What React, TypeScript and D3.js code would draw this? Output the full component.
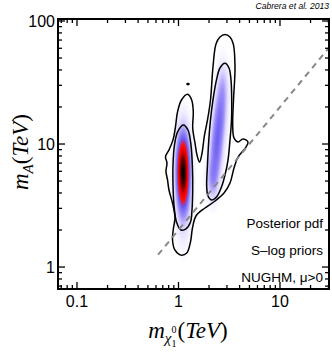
import React, { useMemo } from 'react';
import * as d3 from 'd3';

const W = 332, H = 353;
const M = { left: 58, right: 329, top: 19, bottom: 289 };
const X_DOMAIN: [number, number] = [0.065, 30.4];
const Y_DOMAIN: [number, number] = [0.663, 103.8];

const xMajor = [0.1, 1, 10];
const xMajorLabels = ['0.1', '1', '10'];
const yMajor = [1, 10, 100];
const yMajorLabels = ['1', '10', '100'];

// Gaussian-mixture model of the posterior density (centres in TeV, widths in decades)
const compX = [1.109, 1.12, 2.17, 2.35, 2.54, 2.74];
const compY = [6.03, 5.0, 5.2, 8.9, 15.8, 28.2];
const compSdU = [0.04, 0.052, 0.04, 0.042, 0.042, 0.04];
const compSdV = [0.19, 0.28, 0.12, 0.15, 0.15, 0.15];
const compW = [1.0, 0.3, 0.3, 0.38, 0.36, 0.24];

// outer credible contour (TeV)
const outerX = [1.23, 1.349, 1.399, 1.38, 1.454, 1.522, 1.61, 1.693, 1.804, 1.931, 2.067, 2.187, 2.342, 2.564, 2.872, 3.217, 3.467, 3.604, 3.483, 3.42, 3.523, 3.857, 4.321, 4.839, 4.624, 3.857, 3.523, 3.217, 2.808, 2.289, 1.824, 1.487, 1.374, 1.313, 1.205, 1.058, 0.924, 0.873, 0.893, 0.924, 0.883, 0.806, 0.78, 0.753, 0.77, 0.745, 0.806, 0.883, 0.934, 0.978, 1.07];
const outerY = [25.4, 22.8, 18.2, 13.5, 10.2, 8.14, 7.14, 8.14, 11.8, 15.7, 22.8, 42.3, 65.0, 74.1, 77.7, 74.1, 65.0, 42.3, 22.8, 14.3, 11.2, 10.4, 11.0, 10.4, 9.45, 7.84, 6.38, 4.82, 4.0, 3.44, 3.02, 2.6, 2.08, 1.6, 1.3, 1.25, 1.37, 1.66, 2.08, 2.5, 3.19, 4.23, 5.1, 6.0, 7.0, 7.9, 8.94, 10.8, 13.8, 18.2, 22.8];

// inner contour, left island
const innerLX = [1.115, 1.24, 1.328, 1.374, 1.38, 1.359, 1.313, 1.186, 1.058, 0.956, 0.903, 0.883, 0.883, 0.913, 0.978];
const innerLY = [14.3, 13.0, 9.81, 6.15, 4.23, 2.91, 2.32, 2.04, 2.0, 2.32, 3.19, 4.64, 6.75, 9.81, 12.5];

// inner contour, right island
const innerRX = [2.872, 3.145, 3.291, 3.344, 3.329, 3.217, 3.075, 2.872, 2.652, 2.368, 2.114, 1.953, 1.896, 1.931, 1.975, 2.067, 2.187, 2.368, 2.564];
const innerRY = [45.3, 41.5, 33.2, 22.8, 15.7, 10.8, 7.41, 5.6, 4.47, 3.71, 3.51, 3.78, 4.56, 6.75, 9.81, 15.7, 22.8, 33.2, 41.5];

// isolated tiny contour
const dotX = [1.24];
const dotY = [30.7];

// dashed reference line m_A = 2 m_chi
const diagX = [0.63, 30.4];
const diagRatio = 2;

const colorStops = [0, 0.04, 0.12, 0.24, 0.4, 0.52, 0.68, 0.84, 1];
const colorVals = ['#ffffff', '#f4f1ff', '#dcd4ff', '#9d90f7', '#6a5af2', '#ff1414', '#e80000', '#700000', '#000000'];

export default function App() {
  const x = d3.scaleLog().domain(X_DOMAIN).range([M.left, M.right]);
  const y = d3.scaleLog().domain(Y_DOMAIN).range([M.bottom, M.top]);

  const nx = M.right - M.left;
  const ny = M.bottom - M.top;

  const { bands } = useMemo(() => {
    const vals = new Float64Array(nx * ny);
    const cu = compX.map(Math.log10);
    const cv = compY.map(Math.log10);
    let max = 0;
    for (let j = 0; j < ny; j++) {
      const v = Math.log10(y.invert(M.top + j + 0.5));
      for (let i = 0; i < nx; i++) {
        const u = Math.log10(x.invert(M.left + i + 0.5));
        let s = 0;
        for (let k = 0; k < compW.length; k++) {
          const a = (u - cu[k]) / compSdU[k];
          const b = (v - cv[k]) / compSdV[k];
          s += compW[k] * Math.exp(-0.5 * (a * a + b * b));
        }
        vals[j * nx + i] = s;
        if (s > max) max = s;
      }
    }
    const th = d3.range(0.015, 1.0, 0.015).map((t) => t * max);
    const cs = d3.contours().size([nx, ny]).thresholds(th)(Array.from(vals));
    const color = d3.scaleLinear<string>().domain(colorStops).range(colorVals).interpolate(d3.interpolateRgb).clamp(true);
    const path = d3.geoPath();
    return {
      bands: cs.map((c) => ({ d: path(c as any) || '', fill: color(c.value / max) })),
    };
  }, []);

  const closed = d3
    .line<[number, number]>()
    .x((p) => x(p[0]))
    .y((p) => y(p[1]))
    .curve(d3.curveCatmullRomClosed.alpha(0.5));

  const outer = closed(outerX.map((v, i) => [v, outerY[i]]));
  const innerL = closed(innerLX.map((v, i) => [v, innerLY[i]]));
  const innerR = closed(innerRX.map((v, i) => [v, innerRY[i]]));

  const minorX: number[] = [];
  const minorY: number[] = [];
  [0.01, 0.1, 1, 10].forEach((d) => {
    for (let k = 2; k <= 9; k++) {
      const val = d * k;
      if (val > X_DOMAIN[0] && val < X_DOMAIN[1]) minorX.push(val);
      if (val > Y_DOMAIN[0] && val < Y_DOMAIN[1]) minorY.push(val);
    }
  });

  const MAJ = 7, MIN = 4;
  const tickStroke = { stroke: '#000', strokeWidth: 1.3 };

  return (
    <svg width={W} height={H} style={{ position: 'absolute', left: 0, top: 0, background: '#fff' }}>
      <defs>
        <clipPath id="plot">
          <rect x={M.left} y={M.top} width={nx} height={ny} />
        </clipPath>
      </defs>
      <g clipPath="url(#plot)">
        <g transform={`translate(${M.left},${M.top})`}>
          {bands.map((b, i) => (
            <path key={i} d={b.d} fill={b.fill} stroke="none" />
          ))}
        </g>
        <path d={outer || ''} fill="none" stroke="#000" strokeWidth={1.5} />
        <path d={innerL || ''} fill="none" stroke="#000" strokeWidth={1.5} />
        <path d={innerR || ''} fill="none" stroke="#000" strokeWidth={1.5} />
        {dotX.map((v, i) => (
          <ellipse key={i} cx={x(v)} cy={y(dotY[i])} rx={1.8} ry={1.4} fill="#000" />
        ))}
        <line
          x1={x(diagX[0])}
          y1={y(diagX[0] * diagRatio)}
          x2={x(diagX[1])}
          y2={y(diagX[1] * diagRatio)}
          stroke="#888"
          strokeWidth={2}
          strokeDasharray="6,5"
        />
      </g>

      {/* ticks */}
      {xMajor.map((t) => (
        <g key={'xm' + t}>
          <line x1={x(t)} x2={x(t)} y1={M.bottom} y2={M.bottom - MAJ} {...tickStroke} />
          <line x1={x(t)} x2={x(t)} y1={M.top} y2={M.top + MAJ} {...tickStroke} />
        </g>
      ))}
      {minorX.map((t) => (
        <g key={'xn' + t}>
          <line x1={x(t)} x2={x(t)} y1={M.bottom} y2={M.bottom - MIN} {...tickStroke} />
          <line x1={x(t)} x2={x(t)} y1={M.top} y2={M.top + MIN} {...tickStroke} />
        </g>
      ))}
      {yMajor.map((t) => (
        <g key={'ym' + t}>
          <line y1={y(t)} y2={y(t)} x1={M.left} x2={M.left + MAJ} {...tickStroke} />
          <line y1={y(t)} y2={y(t)} x1={M.right} x2={M.right - MAJ} {...tickStroke} />
        </g>
      ))}
      {minorY.map((t) => (
        <g key={'yn' + t}>
          <line y1={y(t)} y2={y(t)} x1={M.left} x2={M.left + MIN} {...tickStroke} />
          <line y1={y(t)} y2={y(t)} x1={M.right} x2={M.right - MIN} {...tickStroke} />
        </g>
      ))}
      <rect x={M.left} y={M.top} width={nx} height={ny} fill="none" stroke="#000" strokeWidth={2} />

      {/* tick labels */}
      <g fontFamily="Liberation Sans, Arial, sans-serif" fontSize={16} fill="#000">
        {xMajor.map((t, i) => (
          <text key={'xl' + t} x={x(t)} y={307} textAnchor="middle">
            {xMajorLabels[i]}
          </text>
        ))}
        {yMajor.map((t, i) => (
          <text key={'yl' + t} x={55} y={y(t)} dy="0.35em" textAnchor="end">
            {yMajorLabels[i]}
          </text>
        ))}
      </g>

      {/* annotations */}
      <g fontFamily="Liberation Sans, Arial, sans-serif" fontSize={13.5} fill="#000" textAnchor="end">
        <text x={323} y={228}>Posterior pdf</text>
        <text x={323} y={255}>S–log priors</text>
        <text x={323} y={282}>NUGHM, μ&gt;0</text>
      </g>
      <text x={329} y={9} textAnchor="end" fontFamily="Liberation Sans, Arial, sans-serif" fontSize={8.6} fontStyle="italic">
        Cabrera et al. 2013
      </text>

      {/* axis titles */}
      <text
        transform="translate(28,152) rotate(-90)"
        textAnchor="middle"
        fontFamily="Liberation Serif, serif"
        fontSize={23}
        fontStyle="italic"
      >
        m<tspan fontSize={15} dy={5}>A</tspan>
        <tspan dy={-5} fontStyle="normal">(</tspan>TeV<tspan fontStyle="normal">)</tspan>
      </text>
      <text x={188} y={338} textAnchor="middle" fontFamily="Liberation Serif, serif" fontSize={23} fontStyle="italic">
        m<tspan fontSize={15} dy={5}>χ</tspan>
        <tspan fontSize={10} dy={-10} fontStyle="normal">0</tspan>
        <tspan fontSize={10} dx={-5} dy={14} fontStyle="normal">1</tspan>
        <tspan dy={-9} dx={1} fontStyle="normal">(</tspan>TeV<tspan fontStyle="normal">)</tspan>
      </text>
    </svg>
  );
}
